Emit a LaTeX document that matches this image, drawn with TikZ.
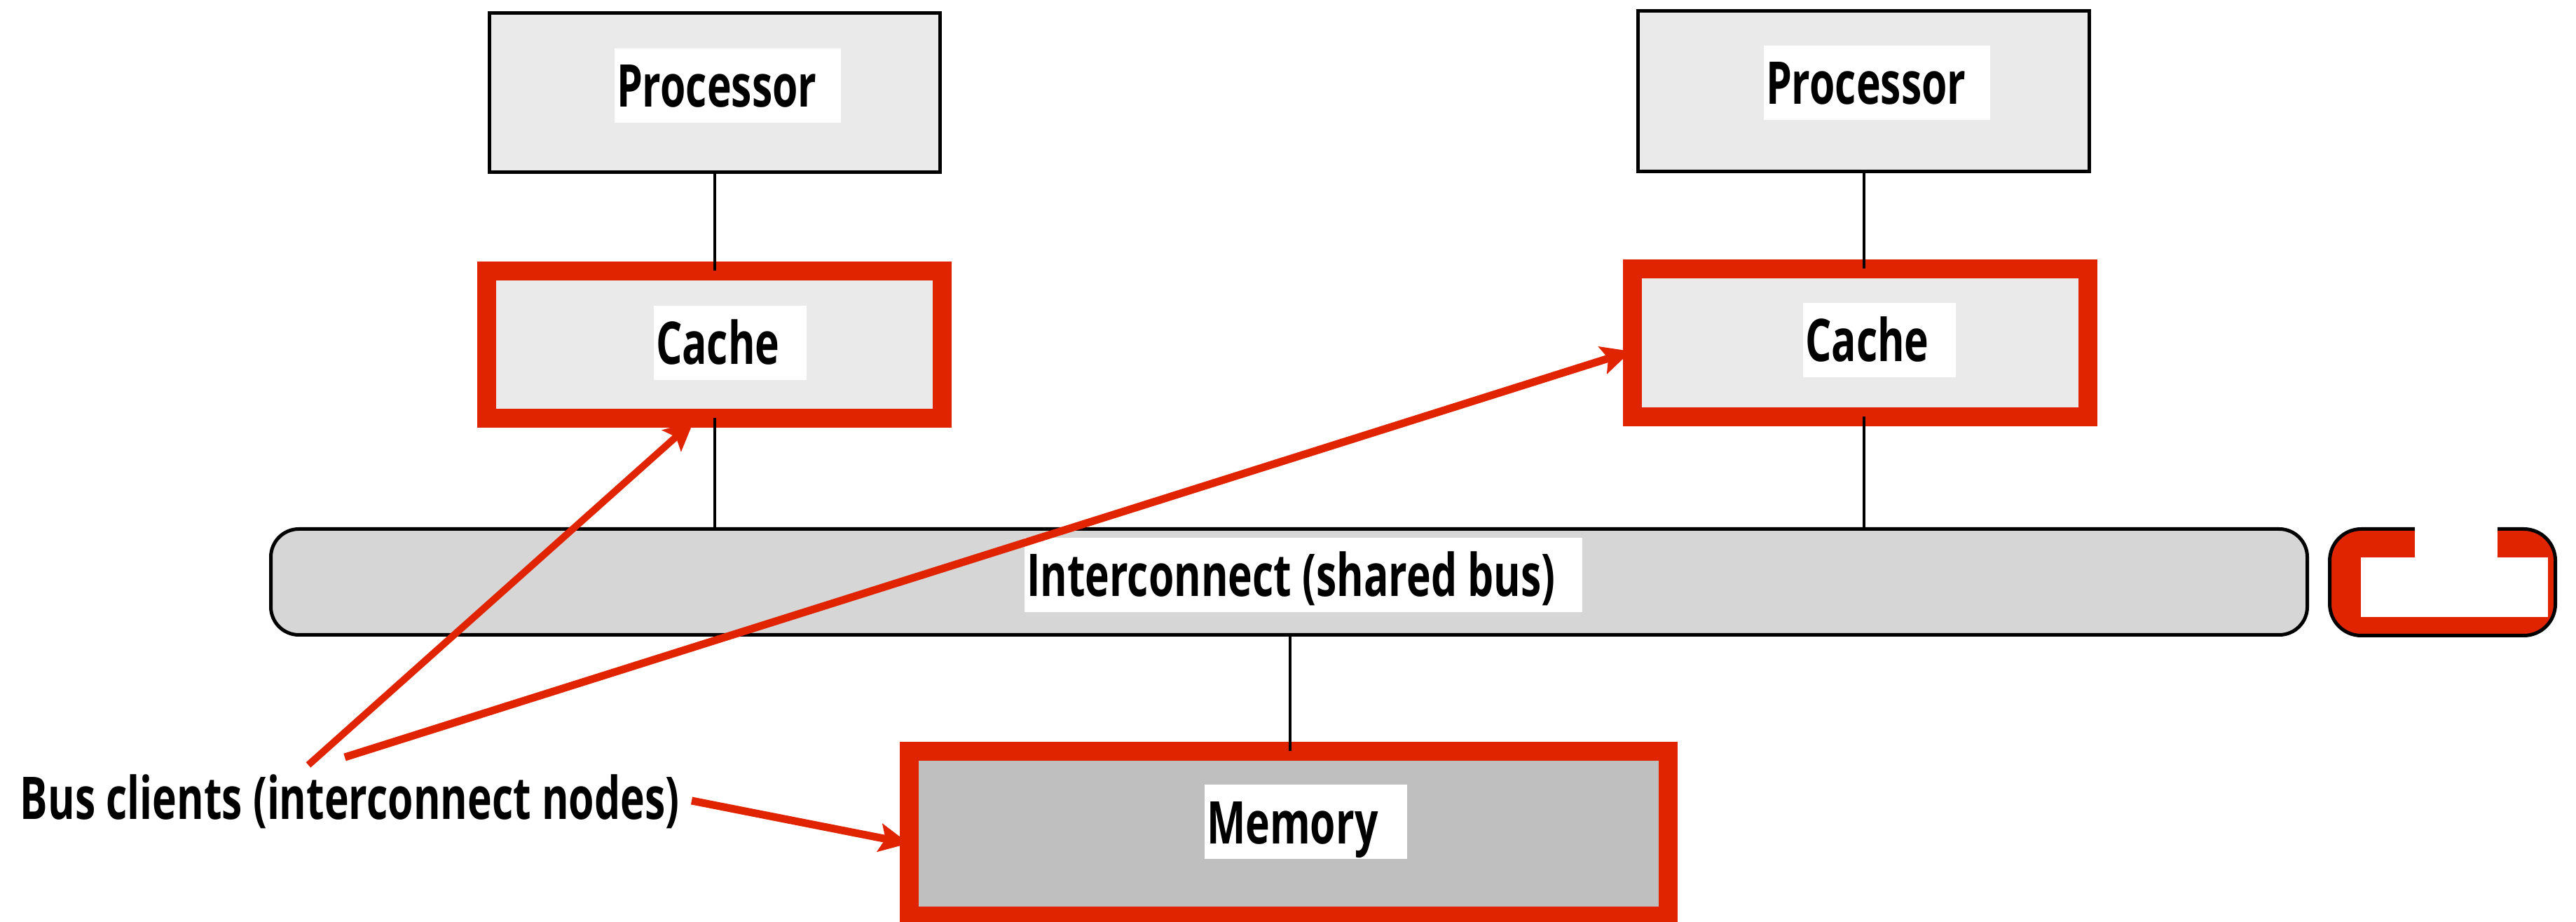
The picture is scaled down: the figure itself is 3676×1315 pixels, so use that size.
\documentclass[tikz,border=0pt]{standalone}
\usepackage{fontspec}
\setmainfont{Open Sans}[FakeStretch=0.7]
\usetikzlibrary{arrows.meta,calc}
\newlength\pu
\setlength\pu{0.2pt}
\definecolor{hired}{RGB}{224,36,0}
\definecolor{boxgray}{RGB}{234,234,234}
\definecolor{busgray}{RGB}{214,214,214}
\definecolor{memgray}{RGB}{191,191,191}
\begin{document}
\begin{tikzpicture}[x=1\pu,y=-1\pu,
  every node/.style={outer sep=0pt},
  plainbox/.style={draw=black,line width=5\pu,fill=boxgray,inner sep=0pt},
  redbox/.style={draw=hired,line width=27\pu,inner sep=0pt},
  lbl/.style={fill=white,inner xsep=3\pu,inner ysep=22\pu,text height=62\pu,text depth=0pt,
     anchor=base west,font=\fontsize{16.8pt}{20pt}\selectfont\bfseries},
  link/.style={draw=black,line width=4\pu},
  clientarrow/.style={draw=hired,line width=2.2pt,
     -{Stealth[length=8.4pt,width=8pt,inset=1.6pt]}}
]
\useasboundingbox (0,0) rectangle (3676,1315);

% boxes
\node[plainbox,minimum width=643\pu,minimum height=227\pu] (proc1) at (1019.5,132.5) {};
\node[plainbox,minimum width=644\pu,minimum height=229\pu] (proc2) at (2659.5,130) {};
\node[redbox,fill=boxgray,minimum width=650\pu,minimum height=210\pu] (cache1) at (1019.5,491.5) {};
\node[redbox,fill=boxgray,minimum width=650\pu,minimum height=211\pu] (cache2) at (2654.5,489) {};
\node[draw=black,line width=5\pu,fill=busgray,rounded corners=40\pu,inner sep=0pt,
      minimum width=2906\pu,minimum height=151\pu] (bus) at (1839.5,830) {};
\node[redbox,fill=memgray,minimum width=1083\pu,minimum height=235\pu] (memory) at (1838.5,1188.5) {};

% icon at the right of the bus
\node[draw=black,line width=5\pu,fill=hired,rounded corners=45\pu,inner sep=0pt,
      minimum width=322\pu,minimum height=152\pu] (icon) at (3485.5,830.5) {};
\fill[white] (3369,795) rectangle (3636,880);
\fill[white] (3446,748) rectangle (3564,796);

% links
\draw[link] (proc1) -- (cache1);
\draw[link] (cache1) -- (cache1 |- bus.north);
\draw[link] (proc2.south) -- (proc2.south |- cache2.north);
\draw[link] (cache2.south -| proc2.south) -- (proc2.south |- bus.north);
\draw[link] (memory.north -| 1841,0) -- (bus.south -| 1841,0);

% labels
\node[lbl] (lproc1) at (877,153) {Processor\hspace*{32\pu}};
\node[lbl] (lproc2) at (2517,149) {Processor\hspace*{32\pu}};
\node[lbl] (lcache1) at (933,520) {Cache\hspace*{35\pu}};
\node[lbl] (lcache2) at (2573,516) {Cache\hspace*{35\pu}};
\node[lbl] (lbus) at (1462,851) {Interconnect (shared bus)\hspace*{35\pu}};
\node[lbl] (lmem) at (1719,1203) {Memory\hspace*{38\pu}};

\node[anchor=base west,inner sep=0pt,font=\fontsize{16.8pt}{20pt}\selectfont\bfseries]
  (clients) at (29,1168) {Bus clients (interconnect nodes)};

% arrows
\coordinate (t1) at (440,1091);
\coordinate (t2) at (492,1080);
\coordinate (t3) at (987,1142);
\draw[clientarrow,line width=2pt] (t1) -- ($(cache1.south)+(-29.5,4)$);
\draw[clientarrow] (t2) -- ($(cache2.west)+(-2,12)$);
\draw[clientarrow] (t3) -- ($(memory.west)+(0,14.5)$);
\end{tikzpicture}
\end{document}
